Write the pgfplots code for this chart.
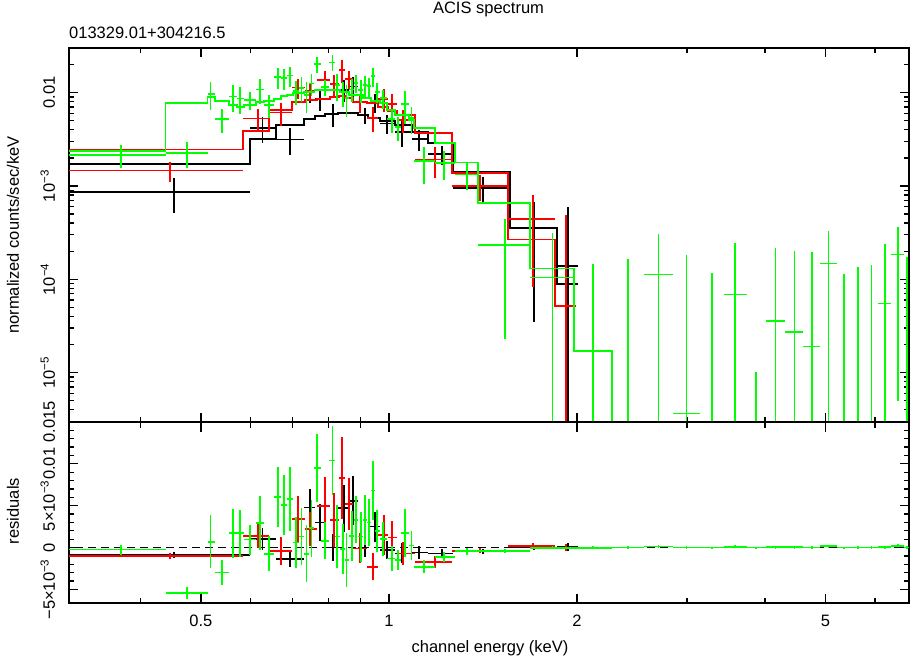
\documentclass[border=0pt]{standalone}
\usepackage{fontspec}
\setmainfont{Liberation Sans}
\usepackage{pgfplots}
\usepackage{pgfplotstable}
\pgfplotsset{compat=1.18}

% data bins: edges, centre, model, residual (data-model), 1 sigma
\pgfplotstableread{
el er x m r e
0.3074 0.5988 0.4525 1.72e-3 -8.6e-4 3.5e-4
0.5988 0.6592 0.6276 3.19e-3 1.0e-3 1.3e-3
0.6592 0.7309 0.6941 4.51e-3 -1.35e-3 1.0e-3
0.7309 0.7611 0.7472 5.23e-3 4.8e-3 2.2e-3
0.7611 0.7897 0.7752 5.63e-3 3.0e-3 2.2e-3
0.7897 0.8285 0.8133 5.91e-3 0.0 1.6e-3
0.8285 0.8628 0.8471 6.06e-3 4.7e-3 2.8e-3
0.8628 0.8920 0.8758 6.06e-3 5.6e-3 2.9e-3
0.8920 0.9255 0.9154 5.77e-3 0.0 1.1e-3
0.9255 0.9674 0.9497 5.36e-3 2.5e-3 1.8e-3
0.9674 1.0224 0.9926 4.97e-3 -3e-4 1.1e-3
1.0224 1.0884 1.0491 4.51e-3 -7e-4 1.2e-3
1.0884 1.1546 1.1170 3.79e-3 -6e-4 8e-4
1.1546 1.2664 1.2160 2.89e-3 -7e-4 5e-4
1.2664 1.5625 1.4142 1.41e-3 -4.6e-4 3e-4
1.5625 1.8578 1.7073 3.55e-4 0.0 3.2e-4
1.8578 2.0074 1.9347 8.9e-5 5e-5 4.6e-4
}\tblk

\pgfplotstableread{
el er x m r e
0.3074 0.5835 0.4459 2.47e-3 -1.0e-3 3.6e-4
0.5835 0.6423 0.6174 3.88e-3 1.4e-3 1.4e-3
0.6423 0.6992 0.6714 6.52e-3 -4e-4 1.7e-3
0.6992 0.7336 0.7157 7.95e-3 3.4e-3 2.8e-3
0.7336 0.7667 0.7472 8.35e-3 2.2e-3 2.0e-3
0.7667 0.8043 0.7897 8.62e-3 5.0e-3 3.4e-3
0.8043 0.8316 0.8173 9.0e-3 3.3e-3 3.2e-3
0.8316 0.8502 0.8400 9.22e-3 8.3e-3 4.9e-3
0.8502 0.8758 0.8638 8.77e-3 5.2e-3 3.1e-3
0.8758 0.9221 0.8987 8.01e-3 -1e-4 1.8e-3
0.9221 0.9603 0.9427 7.70e-3 -2.3e-3 1.6e-3
0.9603 0.9963 0.9817 7.08e-3 1.5e-3 2.4e-3
0.9963 1.0299 1.0111 6.41e-3 1.2e-3 2.0e-3
1.0299 1.1006 1.0529 5.77e-3 -7e-4 1.4e-3
1.1006 1.2618 1.1850 3.67e-3 -1.75e-3 7e-4
1.2618 1.5510 1.3988 1.39e-3 -3.9e-4 3.1e-4
1.5510 1.8442 1.6990 2.68e-4 1.75e-4 3.6e-4
1.8442 1.9927 1.9187 5.17e-5 0.0 4.4e-4
}\tred

\pgfplotstableread{
el er x m r e
0.3074 0.4389 0.3724 2.39e-3 -2.4e-4 6e-4
0.4389 0.5124 0.4747 7.70e-3 -5.45e-3 6.9e-4
0.5124 0.5264 0.5181 9.06e-3 7e-4 3.2e-3
0.5264 0.5541 0.5401 8.2e-3 -3.0e-3 1.5e-3
0.5541 0.5707 0.5624 7.38e-3 1.7e-3 2.9e-3
0.5707 0.5857 0.5771 6.97e-3 1.7e-3 2.8e-3
0.5857 0.6122 0.5988 7.38e-3 9.5e-4 1.8e-3
0.6122 0.6306 0.6213 7.95e-3 2.9e-3 3.2e-3
0.6306 0.6544 0.6430 8.15e-3 -7.5e-4 2.1e-3
0.6544 0.6714 0.6647 8.62e-3 6.0e-3 3.6e-3
0.6714 0.6864 0.6795 9.22e-3 5.1e-3 3.6e-3
0.6864 0.7018 0.6941 9.45e-3 5.8e-3 3.8e-3
0.7018 0.7175 0.7096 9.85e-3 6e-4 3.0e-3
0.7175 0.7309 0.7247 1.0e-2 1.3e-3 3.4e-3
0.7309 0.7445 0.7382 1.025e-2 -7.5e-4 3.4e-3
0.7445 0.7597 0.7519 1.025e-2 2.3e-3 3.4e-3
0.7597 0.7781 0.7676 1.07e-2 9.5e-3 4.1e-3
0.7781 0.8014 0.7897 1.07e-2 8e-4 2.2e-3
0.8014 0.8194 0.8124 1.07e-2 1.04e-2 4.1e-3
0.8194 0.8347 0.8255 1.07e-2 1.3e-3 3.8e-3
0.8347 0.8502 0.8431 1.025e-2 -1.5e-4 3.0e-3
0.8502 0.8628 0.8555 1.025e-2 -1.5e-3 3.2e-3
0.8628 0.8790 0.8716 9.45e-3 1.4e-3 3.0e-3
0.8790 0.8937 0.8855 9.45e-3 3.3e-3 2.8e-3
0.8937 0.9087 0.9010 9.45e-3 1.3e-3 3.0e-3
0.9087 0.9221 0.9154 8.71e-3 3.3e-3 3.0e-3
0.9221 0.9358 0.9300 8.71e-3 3.0e-3 2.8e-3
0.9358 0.9497 0.9427 8.21e-3 6.8e-3 3.5e-3
0.9497 0.9674 0.9578 8.21e-3 2.0e-3 2.5e-3
0.9674 0.9926 0.9792 7.70e-3 1.0e-3 2.0e-3
0.9926 1.0224 1.0100 6.52e-3 -1.3e-3 1.5e-3
1.0224 1.0452 1.0349 5.77e-3 -1.5e-3 1.2e-3
1.0452 1.0765 1.0607 5.77e-3 1.75e-3 2.9e-3
1.0765 1.0965 1.0872 5.10e-3 2.4e-4 1.7e-3
1.0965 1.1850 1.1391 4.15e-3 -2.3e-3 8e-4
1.1850 1.2758 1.2264 2.91e-3 -1.16e-3 6e-4
1.2758 1.3885 1.3318 1.78e-3 -4.5e-4 4.2e-4
1.3885 1.6823 1.5336 6.53e-4 -4.2e-4 2.1e-4
1.6823 1.9780 1.8285 1.31e-4 -2.6e-5 2.1e-4
1.9780 2.2729 2.1216 1.70e-5 -1.69e-5 1.46e-4
2.2729 2.5602 2.4128 1e-6 -9e-7 1.64e-4
2.5602 2.8500 2.7011 1e-6 1.12e-4 1.9e-4
2.8500 3.1477 2.9949 1e-6 2.66e-6 1.8e-4
3.1477 3.4384 3.2897 1e-6 -9e-7 1.16e-4
3.4384 3.7389 3.5849 1e-6 6.8e-5 1.78e-4
3.7389 4.0142 3.8731 1e-6 -9e-7 1.0e-5
4.0142 4.3132 4.1601 1e-6 3.5e-5 1.8e-4
4.3132 4.6091 4.4587 1e-6 2.64e-5 1.75e-4
4.6091 4.9036 4.7556 1e-6 1.8e-5 1.78e-4
4.9036 5.2123 5.0548 1e-6 1.47e-4 1.84e-4
5.2123 5.4945 5.3547 1e-6 -9e-7 1.14e-4
5.4945 5.7822 5.6364 1e-6 -9e-7 1.36e-4
5.7822 6.0691 5.9232 1e-6 -9e-7 1.42e-4
6.0691 6.3734 6.2190 1e-6 5.4e-5 1.84e-4
6.3734 6.6766 6.5260 1e-6 1.84e-4 1.8e-4
6.6766 6.8600 6.7530 1e-6 -9e-7 1.72e-4
}\tgrn

\pgfplotsset{every axis/.append style={
    scale only axis, width=840pt,
    xmode=log, xmin=0.3074, xmax=6.803,
    axis line style={line width=1.6pt},
    tick style={black, line width=1.3pt},
    tick align=inside,
    major tick length=9.5pt, minor tick length=5.5pt,
    xtick={0.5,1,2,5}, minor xtick={0.4,0.6,0.7,0.8,0.9,3,4,6},
    yticklabel style={rotate=90, anchor=base, inner sep=0pt},
    yticklabel shift=14pt,
    tick label style={font=\fontsize{16.5}{19}\selectfont},
  }}

\begin{document}
\fontsize{16.5}{19}\selectfont
\begin{tikzpicture}
\path[use as bounding box] (0,0) rectangle (910pt,657pt);

\begin{axis}[at={(69pt,235pt)}, anchor=south west, height=374pt,
  ymode=log, ymin=2.96e-6, ymax=0.0301,
  xticklabels={},
  ytick={1e-5,1e-4,1e-3,1e-2},
  yticklabels={10\textsuperscript{−5},10\textsuperscript{−4},10\textsuperscript{−3},0.01},
  minor ytick={3e-6,4e-6,5e-6,6e-6,7e-6,8e-6,9e-6,2e-5,3e-5,4e-5,5e-5,6e-5,7e-5,8e-5,9e-5,
    2e-4,3e-4,4e-4,5e-4,6e-4,7e-4,8e-4,9e-4,2e-3,3e-3,4e-3,5e-3,6e-3,7e-3,8e-3,9e-3,2e-2,3e-2}]
% data: y = model + residual
\addplot[draw=none, mark=none, error bars/.cd, x dir=both, x explicit, y dir=both, y explicit,
  error mark=none, error bar style={line width=1.7pt, draw=black}]
  table[x=x, y expr=\thisrow{m}+\thisrow{r},
    x error minus expr=\thisrow{x}-\thisrow{el}, x error plus expr=\thisrow{er}-\thisrow{x},
    y error plus=e, y error minus expr={min(\thisrow{e},0.999*(\thisrow{m}+\thisrow{r}))}]{\tblk};
\addplot[draw=black, line width=1.7pt, const plot mark left] table[x=el, y=m]{\tblk};
\addplot[draw=black, line width=1.7pt, const plot mark right] table[x=er, y=m]{\tblk};
\addplot[draw=none, mark=none, error bars/.cd, x dir=both, x explicit, y dir=both, y explicit,
  error mark=none, error bar style={line width=1.7pt, draw=red}]
  table[x=x, y expr=\thisrow{m}+\thisrow{r},
    x error minus expr=\thisrow{x}-\thisrow{el}, x error plus expr=\thisrow{er}-\thisrow{x},
    y error plus=e, y error minus expr={min(\thisrow{e},0.999*(\thisrow{m}+\thisrow{r}))}]{\tred};
\addplot[draw=red, line width=1.7pt, const plot mark left] table[x=el, y=m]{\tred};
\addplot[draw=red, line width=1.7pt, const plot mark right] table[x=er, y=m]{\tred};
\addplot[draw=none, mark=none, error bars/.cd, x dir=both, x explicit, y dir=both, y explicit,
  error mark=none, error bar style={line width=1.7pt, draw=green}]
  table[x=x, y expr=\thisrow{m}+\thisrow{r},
    x error minus expr=\thisrow{x}-\thisrow{el}, x error plus expr=\thisrow{er}-\thisrow{x},
    y error plus=e, y error minus expr={min(\thisrow{e},0.999*(\thisrow{m}+\thisrow{r}))}]{\tgrn};
\addplot[draw=green, line width=1.7pt, const plot mark left] table[x=el, y=m]{\tgrn};
\addplot[draw=green, line width=1.7pt, const plot mark right] table[x=er, y=m]{\tgrn};
\end{axis}

\begin{axis}[at={(69pt,54pt)}, anchor=south west, height=181pt,
  ymin=-0.00663, ymax=0.0150,
  ytick={-0.005,0,0.005,0.01,0.015},
  yticklabels={−5×10\textsuperscript{−3},0,5×10\textsuperscript{−3},0.01,0.015},
  minor y tick num=4, scaled y ticks=false,
  xticklabels={0.5,1,2,5},
  xticklabel style={anchor=base, inner sep=0pt}, xticklabel shift=23pt]
\addplot[draw=black, line width=1.5pt, dash pattern=on 8pt off 5pt] coordinates {(0.3,0) (7,0)};
\addplot[draw=none, mark=none, error bars/.cd, x dir=both, x explicit, y dir=both, y explicit,
  error mark=none, error bar style={line width=1.7pt, draw=black}]
  table[x=x, y=r, x error minus expr=\thisrow{x}-\thisrow{el}, x error plus expr=\thisrow{er}-\thisrow{x},
    y error=e]{\tblk};
\addplot[draw=none, mark=none, error bars/.cd, x dir=both, x explicit, y dir=both, y explicit,
  error mark=none, error bar style={line width=1.7pt, draw=red}]
  table[x=x, y=r, x error minus expr=\thisrow{x}-\thisrow{el}, x error plus expr=\thisrow{er}-\thisrow{x},
    y error=e]{\tred};
\addplot[draw=none, mark=none, error bars/.cd, x dir=both, x explicit, y dir=both, y explicit,
  error mark=none, error bar style={line width=1.7pt, draw=green}]
  table[x=x, y=r, x error minus expr=\thisrow{x}-\thisrow{el}, x error plus expr=\thisrow{er}-\thisrow{x},
    y error=e]{\tgrn};
\end{axis}

\node[anchor=base, inner sep=0pt] at (488.5pt,643.5pt) {ACIS spectrum};
\node[anchor=base west, inner sep=0pt] at (69pt,618pt) {013329.01+304216.5};
\node[anchor=base, inner sep=0pt] at (490pt,5pt) {channel energy (keV)};
\node[rotate=90, anchor=base, inner sep=0pt] at (19pt,422pt) {normalized counts/sec/keV};
\node[rotate=90, anchor=base, inner sep=0pt] at (19pt,146pt) {residuals};
\end{tikzpicture}
\end{document}
